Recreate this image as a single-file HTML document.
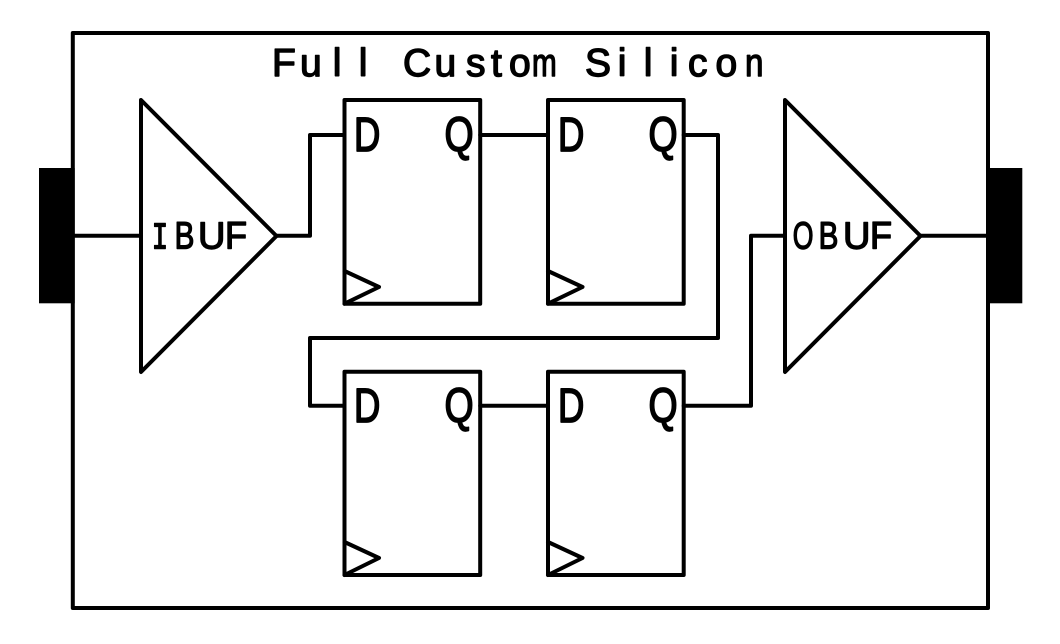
<!DOCTYPE html>
<html><head><meta charset="utf-8"><style>
html,body{margin:0;padding:0;background:#fff}
svg{display:block}
text{font-family:"Liberation Sans",sans-serif;fill:#000;stroke:#000;stroke-linejoin:round}
.t{font-size:39px;stroke-width:1.4}
.l{font-size:48px;stroke-width:1.7}
.b{font-size:38px;stroke-width:1.4}
.m{font-family:"Liberation Mono",monospace}
</style></head><body>
<svg width="1060" height="644" viewBox="0 0 1060 644" xmlns="http://www.w3.org/2000/svg">
<rect width="1060" height="644" fill="#fff"/>
<g fill="none" stroke="#000" stroke-width="4" stroke-linejoin="round" stroke-linecap="round">
<rect x="72.8" y="33" width="915.2" height="575"/>
<path d="M141 100L276.5 236L141 372Z"/>
<path d="M785 100L920.5 236L785 372Z"/>
<rect x="344.5" y="100" width="135.7" height="203.7"/>
<rect x="548" y="100" width="135.7" height="203.7"/>
<rect x="344.5" y="371.7" width="135.7" height="203.3"/>
<rect x="548" y="371.7" width="135.7" height="203.3"/>
<path d="M344.5 271L379 287L344.5 303.7"/>
<path d="M548 271L582.5 287L548 303.7"/>
<path d="M344.5 542L379 558L344.5 575"/>
<path d="M548 542L582.5 558L548 575"/>
<path d="M74 235.8H141"/>
<path d="M276.5 235.8H310V135H344.5"/>
<path d="M480.2 135H548"/>
<path d="M683.7 135H718V338H310V405.7H344.5"/>
<path d="M480.2 405.7H548"/>
<path d="M683.7 405.7H751V235.8H785"/>
<path d="M920.5 235.8H988"/>
</g>
<rect x="39" y="168" width="35.7" height="135.3" fill="#000"/>
<rect x="986.7" y="168" width="35.6" height="135.3" fill="#000"/>
<text class="t" y="76" x="272 300 332.7 358.7">Full</text>
<text class="t" y="76" x="403 434.5 466 491 509">Custo</text>
<text class="t" transform="translate(532,76) scale(.76,1)">m</text>
<text class="t" y="76" x="585 617.7 643.7 669.7 688 715.5">Silico</text>
<text class="t" transform="translate(745,76) scale(.85,1)">n</text>
<text class="l" transform="translate(354,151) scale(.76,1)">D</text>
<text class="l" transform="translate(444.5,151) scale(.78,1)">Q</text>
<text class="l" transform="translate(558,151) scale(.76,1)">D</text>
<text class="l" transform="translate(648.5,151) scale(.78,1)">Q</text>
<text class="l" transform="translate(354,422) scale(.76,1)">D</text>
<text class="l" transform="translate(444.5,422) scale(.78,1)">Q</text>
<text class="l" transform="translate(558,422) scale(.76,1)">D</text>
<text class="l" transform="translate(648.5,422) scale(.78,1)">Q</text>
<text class="b m" transform="translate(160,248.3) scale(.72,1)" text-anchor="middle">I</text>
<text class="b" transform="translate(174.6,248.3) scale(.78,1)">B</text>
<text class="b" x="198" y="248.3">U</text>
<text class="b" transform="translate(225,248.3) scale(.95,1)">F</text>
<text class="b" transform="translate(792.7,248.3) scale(.7,1)">O</text>
<text class="b" transform="translate(818.6,248.3) scale(.78,1)">B</text>
<text class="b" x="843" y="248.3">U</text>
<text class="b" transform="translate(870,248.3) scale(.95,1)">F</text>
</svg>
</body></html>
